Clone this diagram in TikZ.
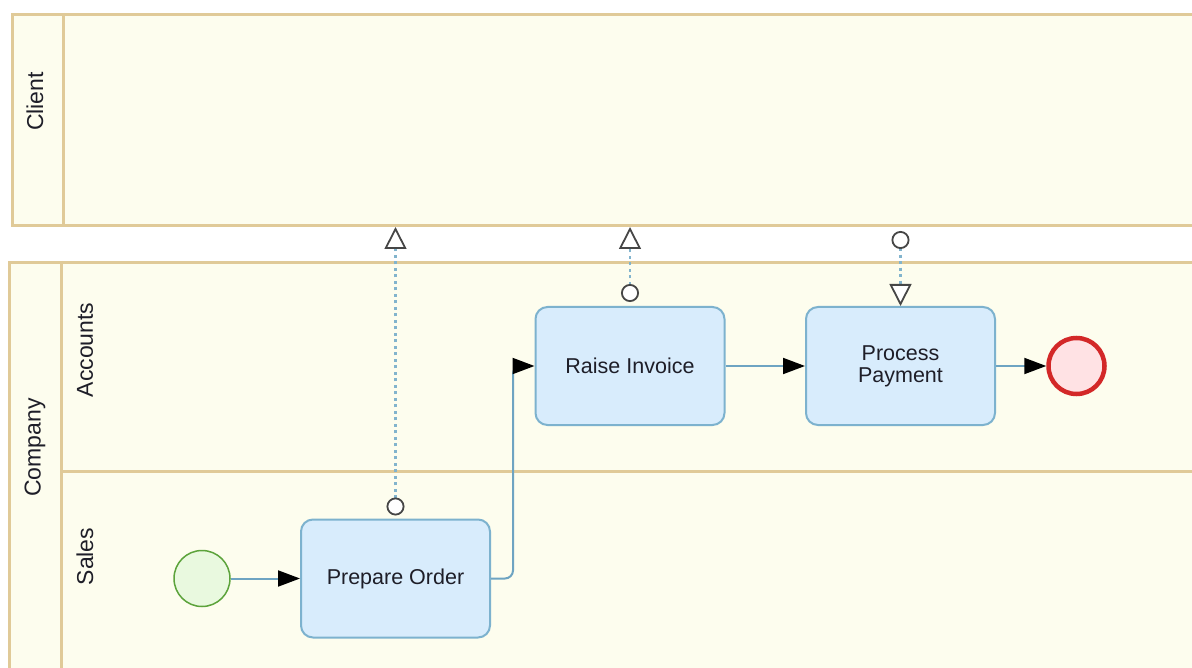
\documentclass[tikz,border=0pt]{standalone}
\usepackage{fontspec}
\setmainfont{Liberation Sans}
\usetikzlibrary{arrows.meta}
\definecolor{poolline}{RGB}{224,202,152}
\definecolor{poolfill}{RGB}{253,253,238}
\definecolor{taskfill}{RGB}{216,236,252}
\definecolor{taskline}{RGB}{125,178,206}
\definecolor{flowline}{RGB}{110,164,194}
\definecolor{msgline}{RGB}{130,180,205}
\definecolor{msgtip}{RGB}{70,70,70}
\definecolor{startfill}{RGB}{233,249,223}
\definecolor{startline}{RGB}{92,163,59}
\definecolor{endfill}{RGB}{255,226,228}
\definecolor{endline}{RGB}{211,40,40}
\definecolor{txt}{RGB}{30,30,40}
\begin{document}
\begin{tikzpicture}[x=1pt,y=-1pt,
  pool/.style={draw=poolline, fill=poolfill, line width=3pt, inner sep=0pt, anchor=north west},
  divider/.style={draw=poolline, line width=3pt},
  task/.style={draw=taskline, fill=taskfill, line width=2pt, rounded corners=12pt,
    minimum width=189pt, minimum height=118pt, inner sep=0pt, align=center,
    font=\fontsize{21.5}{22}\selectfont, text=txt},
  lanelabel/.style={rotate=90, font=\fontsize{23}{24}\selectfont, text=txt, inner sep=0pt},
  startev/.style={circle, draw=startline, fill=startfill, line width=1.5pt, minimum size=56pt, inner sep=0pt},
  endev/.style={circle, draw=endline, fill=endfill, line width=4.5pt, minimum size=56pt, inner sep=0pt},
  seq/.style={draw=flowline, line width=2pt, -{Triangle[length=22pt, width=16pt, black]}},
  msg/.style={draw=msgline, line width=2.5pt, dash pattern=on 3pt off 3.5pt,
    {Circle[open, fill=white, msgtip, length=18pt, width=18pt, line width=1.8pt]}-{Triangle[open, fill=white, msgtip, length=22pt, width=22pt, line width=1.8pt]}}
]
\useasboundingbox (0,0) rectangle (1192,668);
\clip (0,0) rectangle (1192,668);
% pools
\node[pool, minimum width=1200pt, minimum height=211pt] (client) at (11,13) {};
\node[pool, minimum width=1200pt, minimum height=430pt] (company) at (8,261) {};
\coordinate (cdivtop) at (63,13);
\coordinate (cdivbot) at (63,224);
\draw[divider] (cdivtop) -- (cdivbot);
\coordinate (kdivtop) at (61,261);
\coordinate (kdivbot) at (61,690);
\draw[divider] (kdivtop) -- (kdivbot);
\coordinate (lanel) at (61,471.5);
\coordinate (laner) at (1210,471.5);
\draw[divider] (lanel) -- (laner);
% labels
\node[lanelabel] (clientlbl) at (35,101.5) {Client};
\node[lanelabel] (companylbl) at (35,447.5) {Company};
\node[lanelabel] (accountslbl) at (85,350) {Accounts};
\node[lanelabel] (saleslbl) at (85,556.5) {Sales};
% flow nodes
\node[startev] (start) at (202,578.5) {};
\node[task] (prep) at (395.5,578.5) {Prepare Order};
\node[task] (raise) at (630,366) {Raise Invoice};
\node[task] (pay) at (900.5,366) {Process\\Payment};
\node[endev] (end) at (1076.5,366) {};
% sequence flows
\draw[seq] (start) -- (prep);
\draw[seq, rounded corners=8pt] (prep.east) -- ++(22,0) |- (raise.west);
\draw[seq] (raise) -- (pay);
\draw[seq] (pay) -- (end);
% message flows
\coordinate (m1) at (prep.north |- client.south);
\coordinate (m2) at (raise.north |- client.south);
\coordinate (m3) at (pay.north |- client.south);
\draw[msg, shorten <=3pt] (prep.north) -- (m1);
\draw[msg, shorten <=4pt] (raise.north) -- (m2);
\draw[msg, shorten <=4pt] (m3) -- (pay.north);
\end{tikzpicture}
\end{document}
